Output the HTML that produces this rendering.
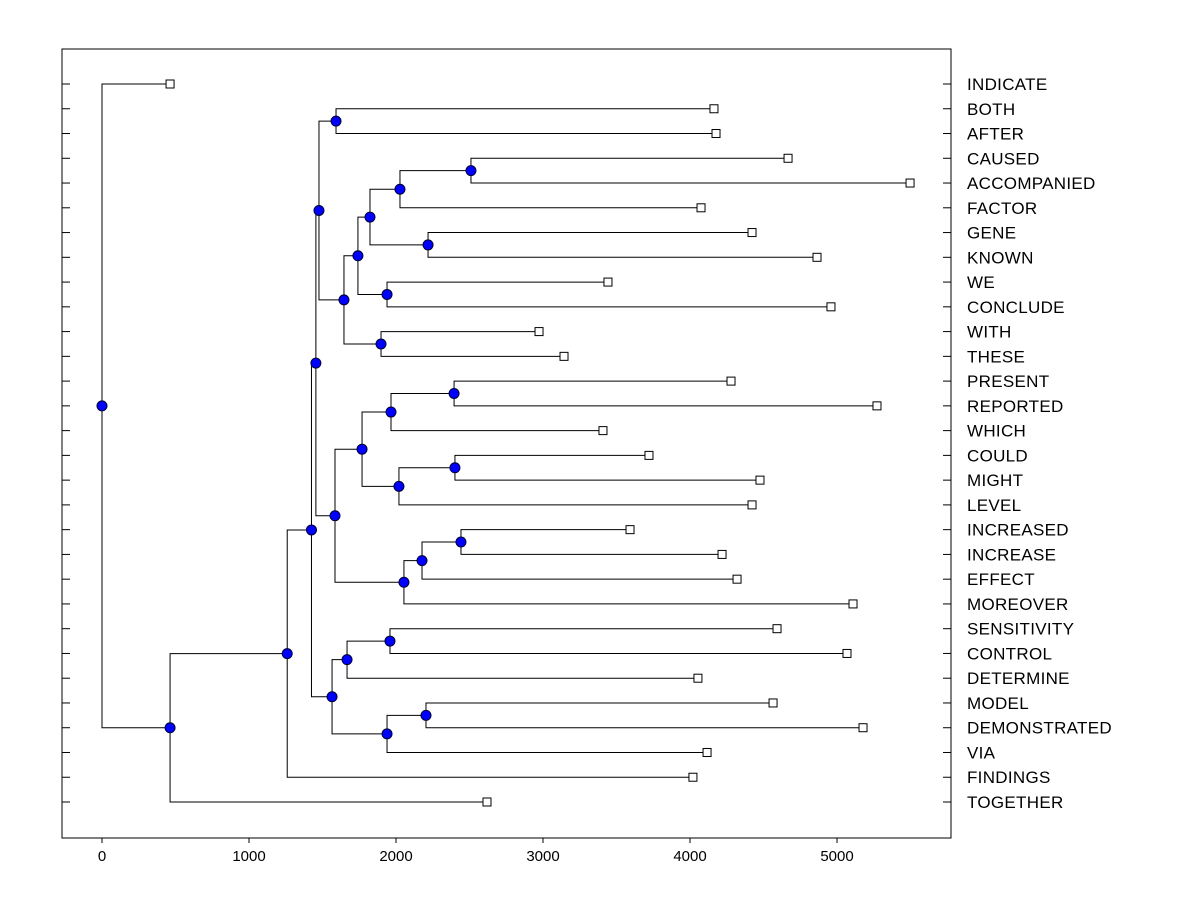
<!DOCTYPE html>
<html><head><meta charset="utf-8"><style>
html,body{margin:0;padding:0;background:#fff;}
svg{display:block;font-family:"Liberation Sans",Arial,sans-serif;}
</style></head><body>
<svg id="chart" width="1200" height="900"></svg>
<script>
const leafNames = ["INDICATE","BOTH","AFTER","CAUSED","ACCOMPANIED","FACTOR","GENE","KNOWN","WE","CONCLUDE","WITH","THESE","PRESENT","REPORTED","WHICH","COULD","MIGHT","LEVEL","INCREASED","INCREASE","EFFECT","MOREOVER","SENSITIVITY","CONTROL","DETERMINE","MODEL","DEMONSTRATED","VIA","FINDINGS","TOGETHER"];
const leafValues = [463,4163,4177,4667,5497,4075,4422,4864,3442,4959,2973,3143,4279,5272,3408,3721,4476,4422,3592,4218,4320,5109,4592,5068,4054,4565,5177,4116,4020,2619];
const mergeA = ["CAUSED","#0","GENE","#1","WE","#3","WITH","#5","BOTH","#8","PRESENT","#10","COULD","#12","#11","INCREASED","#15","#16","#14","#9","SENSITIVITY","#20","MODEL","#22","#21","#19","#25","#26","INDICATE"];
const mergeB = ["ACCOMPANIED","FACTOR","KNOWN","#2","CONCLUDE","#4","THESE","#6","AFTER","#7","REPORTED","WHICH","MIGHT","LEVEL","#13","INCREASE","EFFECT","MOREOVER","#17","#18","CONTROL","DETERMINE","DEMONSTRATED","VIA","#23","#24","FINDINGS","TOGETHER","#27"];
const mergeHeights = [2510,2027,2218,1823,1939,1741,1898,1646,1592,1476,2395,1966,2401,2020,1769,2442,2177,2054,1585,1455,1959,1667,2204,1939,1565,1425,1260,463,0];
const xTicks = [0,1000,2000,3000,4000,5000];

const svg = document.getElementById('chart');
const NS = "http://www.w3.org/2000/svg";
const PL=62, PR=951, PT=49, PB=838;
const xS = v => 102 + v*0.147;
const yLeaf = i => 84 + i*(718/(leafNames.length-1));
function mk(tag, attrs, parent){ const e=document.createElementNS(NS,tag); for(const k in attrs) e.setAttribute(k,attrs[k]); (parent||svg).appendChild(e); return e; }

const frame = mk('rect',{x:PL,y:PT,width:PR-PL,height:PB-PT,fill:'none',stroke:'#000','stroke-width':1});



leafNames.forEach((n,i)=>{
  const y=yLeaf(i);
  const t1=mk('line',{x1:PL,x2:PL+8,y1:y,y2:y,stroke:'#000'});
  
  
  const t2=mk('line',{x1:PR-8,x2:PR,y1:y,y2:y,stroke:'#000'});
  
  
  const lb=mk('text',{x:967,y:y+6,'font-size':17,'letter-spacing':0.3,fill:'#000'});
  lb.textContent=n;
  
  
});

xTicks.forEach(v=>{
  const x=xS(v);
  const tk=mk('line',{x1:x,x2:x,y1:PB,y2:PB+5,stroke:'#000'});
  
  
  const tl=mk('text',{x:x,y:PB+23,'font-size':15,'text-anchor':'middle',fill:'#000'});
  tl.textContent=v;
  
  
});

const nodeY=[], nodeX=[];
function pos(ref){
  if(ref[0]==='#'){ const k=+ref.slice(1); return {x:xS(mergeHeights[k]),y:nodeY[k]}; }
  const i=leafNames.indexOf(ref); return {x:xS(leafValues[i]),y:yLeaf(i)};
}
const links=mk('g',{});


mergeHeights.forEach((h,k)=>{
  const a=pos(mergeA[k]), b=pos(mergeB[k]);
  nodeY[k]=(a.y+b.y)/2; nodeX[k]=xS(h);
  const x=nodeX[k];
  const p=mk('path',{d:`M${a.x},${a.y}H${x}V${b.y}H${b.x}`,fill:'none',stroke:'#000','stroke-width':1},links);
  
  
});
leafNames.forEach((n,i)=>{
  const x=xS(leafValues[i]), y=yLeaf(i);
  const r=mk('rect',{x:x-4,y:y-4,width:8,height:8,fill:'#fff',stroke:'#000'});
  
  
});
mergeHeights.forEach((h,k)=>{
  const c=mk('circle',{cx:nodeX[k],cy:nodeY[k],r:5,fill:'#0000ff',stroke:'#000033','stroke-width':1});
  
  
});
</script>
</body></html>
